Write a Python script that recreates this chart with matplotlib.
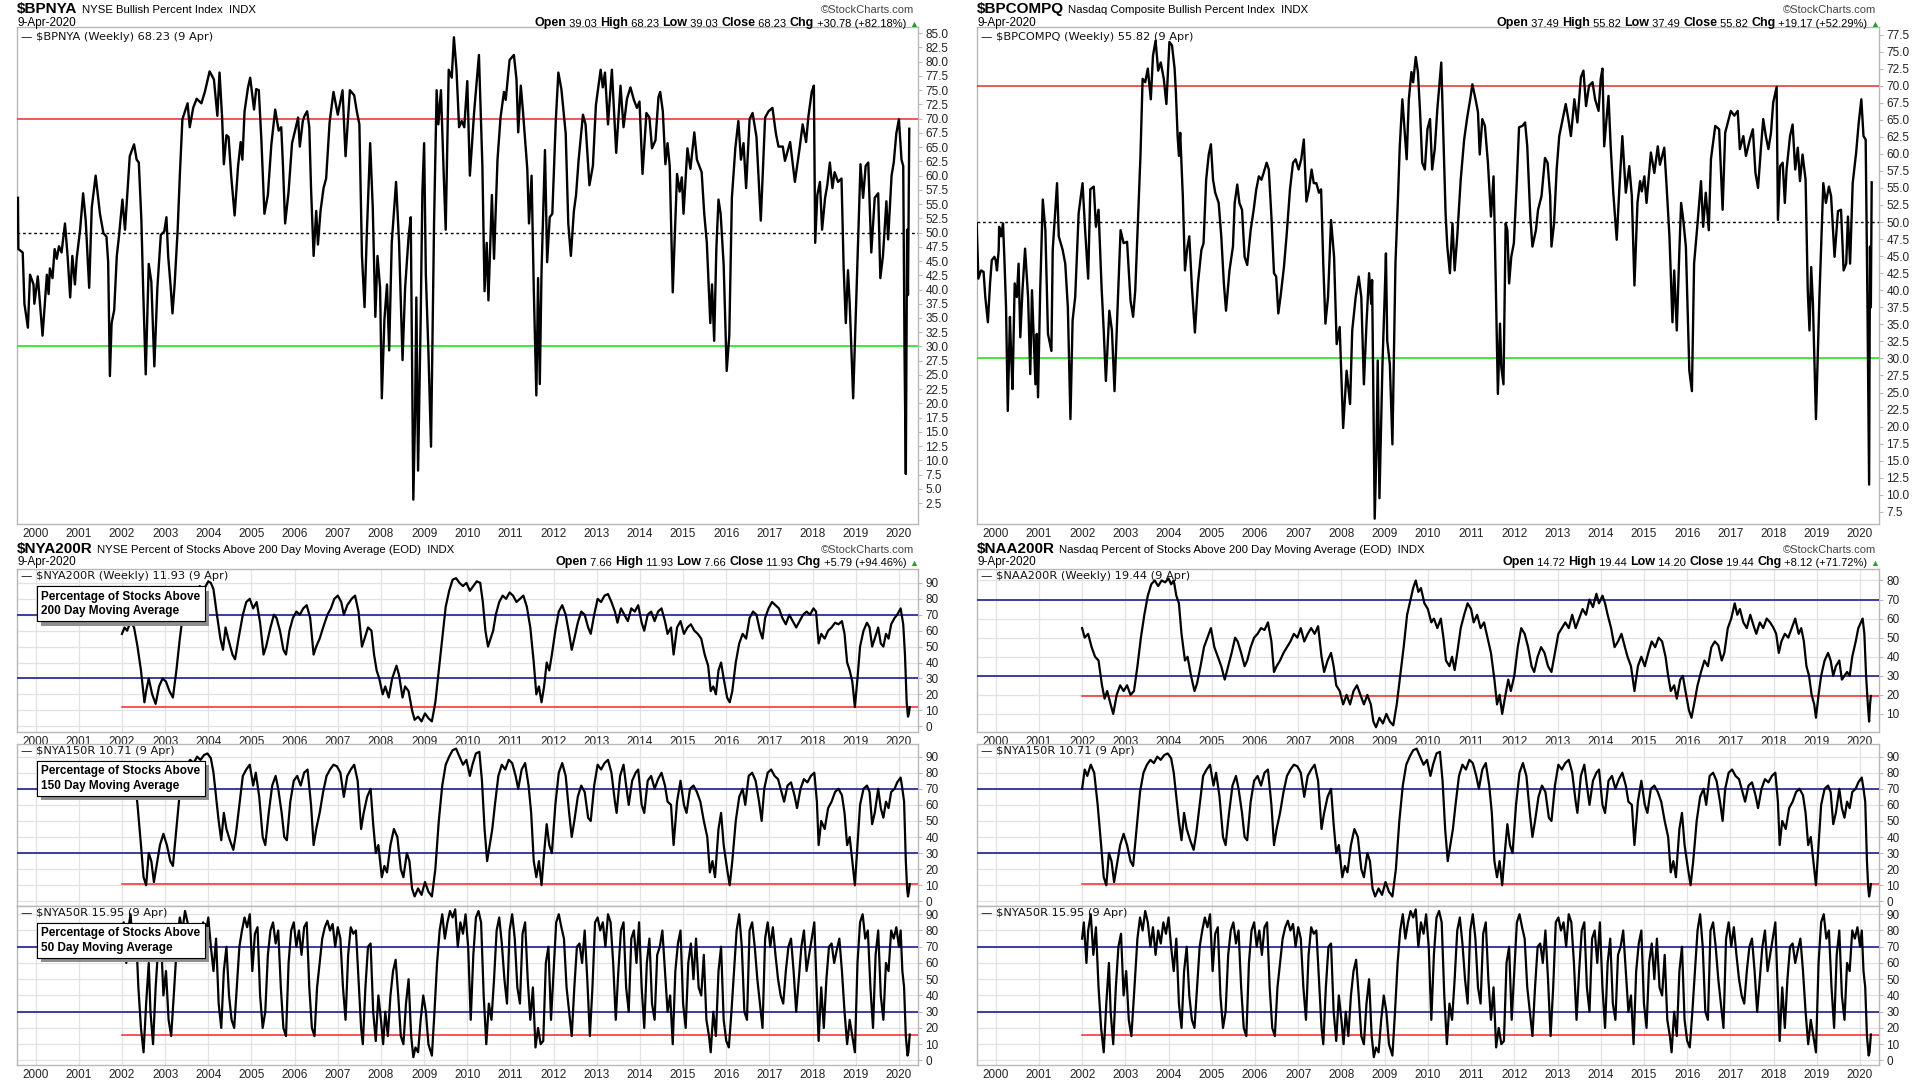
## Bullish percent + percent above moving average, StockCharts style weekly panels

import numpy as np
import matplotlib
matplotlib.use("Agg")
import matplotlib.pyplot as plt
import matplotlib.patheffects as pe

HEAD = ['Liberation Sans', 'DejaVu Sans']
plt.rcParams['font.family'] = ['Liberation Sans', 'DejaVu Sans']

years = list(range(2000, 2021))

## (decimal year, value)
bpnya = [
    (1999.59, 56.1), (1999.60, 47.1), (1999.70, 46.5), (1999.74, 37.5), (1999.82, 33.3), (1999.87, 42.6),
    (1999.95, 40.9), (1999.97, 37.5), (2000.05, 42.3), (2000.10, 37.5), (2000.16, 31.9), (2000.26, 42.6),
    (2000.30, 39.2), (2000.33, 43.7), (2000.39, 42.0), (2000.44, 47.1), (2000.49, 45.4), (2000.54, 47.6),
    (2000.60, 46.5), (2000.68, 51.6), (2000.74, 45.9), (2000.80, 38.6), (2000.85, 45.9), (2000.91, 40.9),
    (2000.95, 45.4), (2001.03, 50.5), (2001.10, 56.9), (2001.16, 52.1), (2001.24, 40.3), (2001.30, 54.4),
    (2001.39, 60.0), (2001.49, 53.3), (2001.57, 49.9), (2001.64, 49.3), (2001.68, 44.8), (2001.72, 24.8),
    (2001.76, 34.1), (2001.82, 36.4), (2001.88, 45.9), (2001.93, 49.3), (2002.01, 55.8), (2002.07, 50.5),
    (2002.18, 63.4), (2002.28, 65.5), (2002.34, 62.8), (2002.39, 62.3), (2002.45, 52.1), (2002.49, 40.3),
    (2002.55, 25.1), (2002.62, 44.5), (2002.68, 41.4), (2002.75, 26.5), (2002.82, 40.3), (2002.90, 49.6),
    (2002.98, 50.2), (2003.03, 52.7), (2003.07, 45.9), (2003.13, 40.3), (2003.17, 35.8), (2003.22, 40.9),
    (2003.29, 50.5), (2003.34, 60.0), (2003.40, 69.9), (2003.46, 71.3), (2003.52, 72.7), (2003.57, 68.5),
    (2003.65, 71.9), (2003.73, 73.5), (2003.84, 72.7), (2003.92, 74.7), (2004.03, 78.3), (2004.13, 76.9),
    (2004.21, 70.5), (2004.26, 78.1), (2004.32, 70.2), (2004.36, 62.0), (2004.42, 67.1), (2004.47, 66.8),
    (2004.53, 60.0), (2004.61, 53.0), (2004.69, 61.7), (2004.75, 65.9), (2004.79, 62.8), (2004.84, 71.3),
    (2004.92, 75.5), (2004.97, 77.2), (2005.06, 71.6), (2005.11, 75.2), (2005.17, 75.0), (2005.23, 66.2),
    (2005.30, 53.3), (2005.38, 56.6), (2005.46, 65.4), (2005.55, 71.6), (2005.63, 67.9), (2005.69, 68.5),
    (2005.73, 61.7), (2005.78, 51.6), (2005.86, 57.2), (2005.94, 65.7), (2006.01, 67.9), (2006.08, 70.2),
    (2006.12, 65.1), (2006.19, 69.6), (2006.23, 70.5), (2006.29, 71.3), (2006.34, 68.5), (2006.38, 57.8),
    (2006.44, 45.9), (2006.50, 53.8), (2006.54, 47.9), (2006.60, 53.8), (2006.67, 57.8), (2006.73, 59.5),
    (2006.81, 69.3), (2006.90, 74.7), (2007.00, 70.7), (2007.11, 75.0), (2007.18, 63.4), (2007.28, 75.0),
    (2007.38, 74.1), (2007.44, 71.3), (2007.50, 69.0), (2007.56, 45.9), (2007.62, 36.9), (2007.67, 49.3),
    (2007.75, 65.7), (2007.81, 54.4), (2007.87, 35.2), (2007.92, 45.9), (2007.98, 40.3), (2008.02, 20.9),
    (2008.08, 34.7), (2008.14, 40.9), (2008.19, 29.3), (2008.25, 48.2), (2008.35, 58.9), (2008.42, 48.2),
    (2008.50, 27.6), (2008.56, 40.3), (2008.64, 49.3), (2008.69, 52.7), (2008.75, 3.1), (2008.79, 17.8),
    (2008.82, 38.6), (2008.86, 8.2), (2008.92, 34.7), (2008.96, 57.2), (2009.00, 65.7), (2009.04, 42.6),
    (2009.10, 29.0), (2009.16, 12.4), (2009.23, 51.6), (2009.29, 75.0), (2009.33, 69.0), (2009.39, 75.0),
    (2009.46, 58.9), (2009.50, 50.5), (2009.57, 78.6), (2009.64, 77.2), (2009.69, 84.3), (2009.75, 78.6),
    (2009.81, 68.5), (2009.87, 69.6), (2009.93, 68.5), (2010.00, 76.6), (2010.06, 60.0), (2010.16, 71.3),
    (2010.27, 81.2), (2010.35, 61.7), (2010.40, 39.7), (2010.45, 48.2), (2010.49, 38.1), (2010.57, 56.6),
    (2010.62, 45.4), (2010.70, 62.8), (2010.77, 70.2), (2010.85, 74.7), (2010.89, 73.3), (2010.98, 80.3),
    (2011.08, 81.2), (2011.14, 76.9), (2011.18, 67.6), (2011.24, 75.8), (2011.29, 71.3), (2011.39, 61.2),
    (2011.43, 51.6), (2011.49, 60.0), (2011.54, 40.3), (2011.60, 21.4), (2011.64, 42.0), (2011.68, 23.4),
    (2011.72, 43.1), (2011.80, 64.5), (2011.85, 44.8), (2011.91, 52.7), (2011.97, 53.3), (2012.05, 69.6),
    (2012.11, 78.1), (2012.18, 75.2), (2012.28, 67.4), (2012.34, 51.6), (2012.40, 45.9), (2012.47, 53.8),
    (2012.52, 56.6), (2012.58, 62.8), (2012.68, 70.7), (2012.74, 69.0), (2012.83, 58.3), (2012.91, 61.7),
    (2012.98, 72.4), (2013.09, 78.6), (2013.14, 75.5), (2013.19, 78.1), (2013.26, 69.0), (2013.35, 78.6),
    (2013.45, 64.0), (2013.55, 75.8), (2013.62, 68.5), (2013.70, 73.5), (2013.78, 75.5), (2013.86, 73.3),
    (2013.93, 71.9), (2013.99, 73.0), (2014.06, 60.3), (2014.15, 71.0), (2014.22, 70.2), (2014.28, 64.8),
    (2014.36, 66.2), (2014.43, 73.8), (2014.47, 74.7), (2014.53, 71.3), (2014.59, 62.0), (2014.64, 65.7),
    (2014.69, 61.7), (2014.76, 39.5), (2014.86, 60.3), (2014.92, 57.2), (2014.97, 59.7), (2015.01, 53.3),
    (2015.10, 64.8), (2015.17, 61.2), (2015.26, 67.6), (2015.32, 62.8), (2015.43, 60.6), (2015.49, 53.3),
    (2015.55, 48.2), (2015.63, 34.1), (2015.67, 40.9), (2015.72, 31.0), (2015.77, 47.1), (2015.82, 55.8),
    (2015.87, 53.3), (2015.94, 44.3), (2016.01, 25.7), (2016.07, 31.9), (2016.13, 56.1), (2016.21, 64.8),
    (2016.28, 69.6), (2016.34, 62.8), (2016.40, 65.7), (2016.46, 57.8), (2016.54, 69.9), (2016.61, 71.0),
    (2016.70, 66.8), (2016.80, 52.1), (2016.90, 70.2), (2016.98, 71.3), (2017.07, 71.9), (2017.15, 67.4),
    (2017.21, 65.1), (2017.31, 65.1), (2017.36, 62.6), (2017.48, 65.9), (2017.59, 58.9), (2017.69, 64.3),
    (2017.77, 69.0), (2017.85, 65.9), (2017.90, 70.2), (2017.98, 74.7), (2018.03, 75.8), (2018.06, 48.2),
    (2018.11, 56.6), (2018.17, 58.9), (2018.22, 50.5), (2018.29, 56.1), (2018.34, 58.3), (2018.40, 62.3),
    (2018.46, 57.8), (2018.51, 60.6), (2018.59, 58.9), (2018.67, 59.5), (2018.72, 43.7), (2018.77, 34.1),
    (2018.82, 43.4), (2018.86, 37.5), (2018.94, 20.9), (2019.02, 40.3), (2019.11, 62.0), (2019.17, 56.1),
    (2019.23, 61.7), (2019.29, 62.3), (2019.36, 46.5), (2019.44, 56.1), (2019.52, 56.9), (2019.57, 42.0),
    (2019.63, 45.9), (2019.71, 55.5), (2019.75, 48.8), (2019.83, 60.0), (2019.88, 62.3), (2019.94, 67.4),
    (2020.00, 69.9), (2020.06, 62.8), (2020.10, 61.7), (2020.13, 29.0), (2020.16, 7.6), (2020.19, 50.5),
    (2020.21, 39.03), (2020.24, 68.23),
]

bpcompq = [
    (1999.56, 49.8), (1999.60, 41.7), (1999.66, 42.9), (1999.72, 42.7), (1999.76, 39.0), (1999.82, 35.3),
    (1999.87, 41.0), (1999.91, 44.4), (1999.97, 44.9), (2000.00, 44.4), (2000.03, 42.9), (2000.07, 45.9),
    (2000.08, 49.3), (2000.13, 47.9), (2000.17, 49.8), (2000.20, 44.9), (2000.24, 37.5), (2000.28, 22.3),
    (2000.33, 36.1), (2000.36, 30.2), (2000.39, 25.5), (2000.44, 41.0), (2000.49, 39.0), (2000.53, 43.9),
    (2000.57, 33.1), (2000.62, 40.0), (2000.68, 46.1), (2000.75, 39.0), (2000.80, 27.7), (2000.84, 40.0),
    (2000.88, 33.1), (2000.92, 26.2), (2000.95, 33.6), (2000.98, 24.3), (2001.03, 40.0), (2001.09, 53.3),
    (2001.15, 48.8), (2001.21, 33.6), (2001.29, 31.1), (2001.32, 45.9), (2001.38, 51.8), (2001.42, 55.7),
    (2001.46, 47.9), (2001.55, 45.9), (2001.61, 43.9), (2001.67, 37.5), (2001.73, 21.1), (2001.78, 35.6),
    (2001.84, 39.0), (2001.92, 51.3), (2002.01, 55.7), (2002.07, 48.8), (2002.14, 41.7), (2002.19, 54.8),
    (2002.27, 55.2), (2002.32, 49.3), (2002.38, 51.8), (2002.45, 40.5), (2002.50, 34.1), (2002.55, 26.7),
    (2002.63, 37.0), (2002.69, 34.1), (2002.75, 25.2), (2002.83, 39.0), (2002.89, 48.8), (2002.96, 46.9),
    (2003.04, 47.1), (2003.12, 38.5), (2003.18, 36.1), (2003.23, 40.0), (2003.29, 49.8), (2003.35, 59.7),
    (2003.40, 71.0), (2003.46, 70.5), (2003.52, 72.5), (2003.59, 68.0), (2003.64, 74.4), (2003.70, 76.6),
    (2003.76, 72.2), (2003.82, 73.4), (2003.89, 71.0), (2003.95, 67.3), (2004.02, 76.4), (2004.08, 75.9),
    (2004.14, 72.5), (2004.17, 69.0), (2004.21, 62.6), (2004.24, 59.7), (2004.27, 63.1), (2004.33, 53.8),
    (2004.38, 42.9), (2004.43, 46.1), (2004.48, 47.9), (2004.54, 40.5), (2004.61, 33.8), (2004.68, 41.0),
    (2004.76, 45.9), (2004.81, 46.9), (2004.87, 56.2), (2004.93, 59.9), (2004.98, 61.4), (2005.03, 56.2),
    (2005.08, 54.3), (2005.16, 52.8), (2005.22, 47.9), (2005.28, 41.0), (2005.33, 37.0), (2005.41, 42.9),
    (2005.49, 46.4), (2005.53, 52.8), (2005.59, 55.5), (2005.64, 52.8), (2005.70, 51.8), (2005.76, 44.9),
    (2005.82, 43.7), (2005.90, 48.8), (2005.97, 51.8), (2006.03, 54.8), (2006.09, 56.7), (2006.15, 56.2),
    (2006.20, 57.2), (2006.27, 58.7), (2006.32, 57.7), (2006.38, 50.8), (2006.44, 42.5), (2006.49, 42.0),
    (2006.54, 36.6), (2006.59, 39.0), (2006.67, 43.4), (2006.73, 47.9), (2006.81, 54.8), (2006.88, 58.7),
    (2006.94, 59.2), (2007.01, 57.7), (2007.07, 59.2), (2007.13, 62.1), (2007.19, 53.0), (2007.25, 54.8),
    (2007.31, 57.7), (2007.36, 55.7), (2007.42, 55.7), (2007.48, 54.3), (2007.53, 54.8), (2007.58, 43.9),
    (2007.63, 35.1), (2007.69, 39.0), (2007.76, 50.3), (2007.83, 44.9), (2007.89, 32.1), (2007.96, 34.6),
    (2008.04, 19.8), (2008.12, 28.2), (2008.20, 23.3), (2008.25, 34.1), (2008.33, 39.0), (2008.40, 42.0),
    (2008.46, 39.0), (2008.52, 26.2), (2008.58, 35.1), (2008.64, 42.5), (2008.69, 38.0), (2008.71, 41.5),
    (2008.77, 6.5), (2008.81, 16.4), (2008.84, 29.7), (2008.88, 9.5), (2008.95, 29.2), (2009.00, 39.0),
    (2009.03, 45.4), (2009.06, 32.6), (2009.12, 29.2), (2009.18, 17.4), (2009.25, 43.9), (2009.31, 53.8),
    (2009.35, 61.1), (2009.41, 68.0), (2009.46, 63.6), (2009.51, 59.2), (2009.56, 68.0), (2009.62, 72.0),
    (2009.66, 70.5), (2009.72, 74.2), (2009.77, 72.0), (2009.82, 66.1), (2009.87, 58.7), (2009.93, 57.7),
    (2009.99, 63.6), (2010.05, 65.1), (2010.10, 57.7), (2010.16, 60.7), (2010.22, 66.6), (2010.31, 73.4),
    (2010.36, 62.1), (2010.41, 51.3), (2010.45, 46.4), (2010.51, 42.5), (2010.57, 49.8), (2010.62, 42.9),
    (2010.68, 47.9), (2010.76, 56.2), (2010.84, 62.1), (2010.91, 65.3), (2010.98, 68.0), (2011.03, 70.2),
    (2011.11, 67.8), (2011.16, 66.1), (2011.20, 59.9), (2011.26, 65.1), (2011.32, 64.1), (2011.39, 58.7),
    (2011.46, 50.8), (2011.52, 56.7), (2011.57, 41.5), (2011.62, 24.8), (2011.67, 35.1), (2011.70, 28.7),
    (2011.75, 26.2), (2011.80, 49.8), (2011.84, 48.8), (2011.88, 41.0), (2011.93, 44.9), (2011.99, 46.9),
    (2012.06, 56.2), (2012.11, 63.9), (2012.19, 64.1), (2012.25, 64.6), (2012.30, 61.1), (2012.37, 50.8),
    (2012.42, 46.4), (2012.50, 48.8), (2012.55, 51.8), (2012.63, 53.8), (2012.71, 59.4), (2012.77, 58.7),
    (2012.83, 53.8), (2012.86, 46.4), (2012.92, 49.8), (2012.98, 57.7), (2013.04, 62.6), (2013.12, 65.1),
    (2013.19, 67.3), (2013.25, 65.1), (2013.31, 62.6), (2013.39, 68.0), (2013.46, 64.6), (2013.54, 71.2),
    (2013.60, 72.2), (2013.66, 67.0), (2013.73, 70.0), (2013.81, 70.5), (2013.87, 68.0), (2013.95, 66.3),
    (2014.00, 71.0), (2014.04, 72.5), (2014.08, 61.1), (2014.12, 64.1), (2014.18, 68.5), (2014.23, 61.1),
    (2014.29, 54.3), (2014.37, 47.4), (2014.43, 54.8), (2014.50, 62.6), (2014.58, 54.3), (2014.66, 58.2),
    (2014.72, 53.8), (2014.78, 40.7), (2014.85, 52.8), (2014.91, 56.0), (2014.95, 54.5), (2015.01, 56.7),
    (2015.06, 52.8), (2015.16, 60.2), (2015.24, 57.2), (2015.32, 61.1), (2015.37, 58.4), (2015.47, 60.9),
    (2015.52, 55.7), (2015.59, 47.9), (2015.66, 35.3), (2015.70, 42.9), (2015.76, 34.1), (2015.82, 45.9),
    (2015.86, 52.8), (2015.91, 50.3), (2015.97, 46.4), (2016.05, 28.2), (2016.11, 25.2), (2016.16, 43.9),
    (2016.24, 49.8), (2016.32, 56.0), (2016.37, 49.3), (2016.43, 54.3), (2016.50, 48.8), (2016.55, 59.2),
    (2016.65, 64.1), (2016.74, 63.6), (2016.82, 51.8), (2016.88, 63.1), (2016.96, 65.1), (2017.01, 66.3),
    (2017.09, 65.6), (2017.17, 66.3), (2017.22, 60.7), (2017.30, 62.6), (2017.36, 59.7), (2017.45, 62.1),
    (2017.52, 63.6), (2017.58, 57.2), (2017.64, 55.0), (2017.71, 61.1), (2017.76, 65.1), (2017.82, 62.6),
    (2017.88, 60.7), (2017.94, 63.1), (2017.99, 67.5), (2018.07, 69.8), (2018.10, 50.3), (2018.15, 58.2),
    (2018.21, 58.7), (2018.26, 52.8), (2018.30, 57.7), (2018.38, 62.6), (2018.44, 64.3), (2018.50, 57.7),
    (2018.56, 60.9), (2018.61, 56.0), (2018.67, 59.9), (2018.74, 56.2), (2018.79, 40.0), (2018.83, 34.1),
    (2018.87, 43.4), (2018.91, 38.0), (2018.98, 21.1), (2019.06, 39.0), (2019.15, 55.7), (2019.21, 52.8),
    (2019.28, 55.2), (2019.33, 53.8), (2019.41, 44.9), (2019.49, 51.6), (2019.56, 51.8), (2019.62, 42.9),
    (2019.68, 43.9), (2019.72, 50.8), (2019.77, 43.9), (2019.83, 55.7), (2019.91, 60.2), (2019.97, 64.6),
    (2020.03, 68.0), (2020.08, 62.6), (2020.13, 62.1), (2020.17, 39.0), (2020.21, 11.5), (2020.23, 46.4),
    (2020.25, 37.49), (2020.27, 55.82),
]

nya200r = [
    (2002.00, 58), (2002.06, 62), (2002.12, 60), (2002.20, 66), (2002.28, 62), (2002.36, 50), (2002.44, 35),
    (2002.52, 15), (2002.56, 22), (2002.62, 30), (2002.70, 20), (2002.78, 14), (2002.86, 25), (2002.94, 30),
    (2003.02, 28), (2003.10, 22), (2003.18, 18), (2003.26, 35), (2003.34, 55), (2003.42, 72), (2003.52, 80),
    (2003.60, 85), (2003.70, 84), (2003.80, 88), (2003.90, 86), (2004.00, 91), (2004.06, 90), (2004.12, 86),
    (2004.20, 70), (2004.28, 55), (2004.34, 48), (2004.40, 62), (2004.46, 55), (2004.56, 45), (2004.62, 42),
    (2004.70, 55), (2004.80, 70), (2004.88, 78), (2004.96, 80), (2005.04, 74), (2005.12, 78), (2005.20, 65),
    (2005.28, 45), (2005.34, 50), (2005.44, 62), (2005.52, 70), (2005.58, 68), (2005.66, 60), (2005.74, 48),
    (2005.80, 45), (2005.88, 60), (2005.96, 68), (2006.04, 72), (2006.12, 70), (2006.20, 74), (2006.28, 76),
    (2006.36, 68), (2006.44, 45), (2006.50, 50), (2006.58, 55), (2006.66, 62), (2006.76, 70), (2006.84, 74),
    (2006.92, 80), (2007.00, 82), (2007.08, 78), (2007.14, 70), (2007.22, 76), (2007.32, 80), (2007.40, 82),
    (2007.48, 72), (2007.56, 50), (2007.62, 55), (2007.70, 62), (2007.78, 60), (2007.84, 45), (2007.90, 35),
    (2007.96, 30), (2008.04, 20), (2008.10, 25), (2008.18, 18), (2008.26, 30), (2008.36, 38), (2008.42, 32),
    (2008.50, 18), (2008.56, 25), (2008.64, 22), (2008.72, 10), (2008.78, 4), (2008.86, 6), (2008.94, 3),
    (2009.02, 8), (2009.10, 5), (2009.18, 3), (2009.26, 15), (2009.34, 35), (2009.42, 55), (2009.50, 75),
    (2009.58, 85), (2009.66, 92), (2009.74, 93), (2009.82, 90), (2009.90, 88), (2009.98, 90), (2010.06, 85),
    (2010.14, 88), (2010.22, 91), (2010.30, 90), (2010.36, 78), (2010.42, 60), (2010.48, 50), (2010.54, 55),
    (2010.60, 60), (2010.66, 70), (2010.74, 78), (2010.82, 82), (2010.90, 80), (2010.98, 84), (2011.06, 82),
    (2011.14, 78), (2011.22, 80), (2011.30, 82), (2011.38, 75), (2011.46, 62), (2011.54, 40), (2011.60, 20),
    (2011.66, 25), (2011.72, 15), (2011.78, 25), (2011.84, 40), (2011.90, 35), (2011.96, 45), (2012.04, 60),
    (2012.12, 72), (2012.20, 76), (2012.28, 70), (2012.36, 58), (2012.42, 48), (2012.48, 55), (2012.56, 65),
    (2012.64, 72), (2012.72, 70), (2012.80, 62), (2012.86, 58), (2012.94, 70), (2013.02, 80), (2013.10, 78),
    (2013.18, 82), (2013.26, 83), (2013.34, 78), (2013.42, 72), (2013.48, 65), (2013.56, 74), (2013.64, 70),
    (2013.72, 66), (2013.80, 74), (2013.88, 72), (2013.96, 76), (2014.04, 65), (2014.10, 60), (2014.18, 70),
    (2014.26, 72), (2014.34, 66), (2014.42, 72), (2014.50, 74), (2014.58, 66), (2014.64, 58), (2014.72, 62),
    (2014.78, 45), (2014.86, 62), (2014.94, 66), (2015.02, 58), (2015.10, 62), (2015.18, 64), (2015.26, 60),
    (2015.34, 58), (2015.42, 55), (2015.50, 45), (2015.58, 38), (2015.64, 22), (2015.70, 25), (2015.76, 20),
    (2015.82, 35), (2015.88, 40), (2015.94, 30), (2016.02, 18), (2016.08, 15), (2016.14, 22), (2016.22, 40),
    (2016.30, 52), (2016.38, 58), (2016.46, 55), (2016.54, 68), (2016.62, 72), (2016.70, 70), (2016.78, 60),
    (2016.84, 55), (2016.90, 68), (2016.98, 74), (2017.06, 78), (2017.14, 76), (2017.22, 74), (2017.30, 68),
    (2017.38, 64), (2017.46, 70), (2017.54, 66), (2017.62, 62), (2017.70, 66), (2017.78, 70), (2017.86, 72),
    (2017.94, 70), (2018.02, 74), (2018.08, 72), (2018.14, 52), (2018.20, 58), (2018.28, 55), (2018.36, 60),
    (2018.44, 62), (2018.52, 65), (2018.60, 64), (2018.68, 66), (2018.74, 58), (2018.80, 40), (2018.86, 35),
    (2018.92, 28), (2018.98, 12), (2019.04, 30), (2019.10, 50), (2019.18, 60), (2019.26, 65), (2019.32, 62),
    (2019.38, 50), (2019.44, 55), (2019.52, 62), (2019.58, 52), (2019.64, 50), (2019.70, 58), (2019.76, 55),
    (2019.82, 64), (2019.90, 68), (2019.96, 70), (2020.04, 74), (2020.10, 64), (2020.14, 45), (2020.18, 15),
    (2020.21, 6), (2020.23, 7.66), (2020.25, 11.93),
]

naa200r = [
    (2002.00, 55), (2002.06, 50), (2002.14, 52), (2002.22, 45), (2002.30, 40), (2002.38, 38), (2002.46, 25),
    (2002.52, 18), (2002.58, 22), (2002.66, 15), (2002.72, 10), (2002.80, 20), (2002.88, 25), (2002.96, 22),
    (2003.04, 25), (2003.12, 20), (2003.20, 22), (2003.28, 35), (2003.36, 50), (2003.44, 62), (2003.52, 72),
    (2003.60, 78), (2003.68, 80), (2003.76, 77), (2003.84, 80), (2003.92, 79), (2004.00, 81), (2004.06, 78),
    (2004.12, 80), (2004.18, 72), (2004.24, 68), (2004.30, 52), (2004.38, 38), (2004.44, 40), (2004.52, 30),
    (2004.60, 22), (2004.66, 26), (2004.74, 35), (2004.82, 45), (2004.90, 50), (2004.98, 55), (2005.06, 45),
    (2005.14, 40), (2005.22, 35), (2005.30, 28), (2005.38, 35), (2005.46, 42), (2005.54, 50), (2005.60, 48),
    (2005.68, 42), (2005.76, 35), (2005.82, 38), (2005.90, 45), (2005.98, 50), (2006.06, 52), (2006.14, 55),
    (2006.22, 54), (2006.30, 58), (2006.38, 48), (2006.44, 32), (2006.50, 35), (2006.58, 38), (2006.66, 42),
    (2006.74, 45), (2006.82, 48), (2006.90, 52), (2006.98, 50), (2007.06, 55), (2007.14, 48), (2007.22, 52),
    (2007.30, 55), (2007.38, 52), (2007.46, 56), (2007.54, 40), (2007.60, 32), (2007.68, 38), (2007.76, 42),
    (2007.82, 35), (2007.88, 25), (2007.96, 22), (2008.04, 15), (2008.12, 20), (2008.20, 15), (2008.28, 22),
    (2008.36, 25), (2008.44, 20), (2008.52, 15), (2008.60, 20), (2008.68, 15), (2008.74, 6), (2008.80, 3),
    (2008.88, 8), (2008.96, 5), (2009.04, 10), (2009.12, 6), (2009.20, 4), (2009.28, 15), (2009.36, 30),
    (2009.44, 45), (2009.52, 62), (2009.60, 70), (2009.66, 76), (2009.72, 80), (2009.78, 74), (2009.84, 76),
    (2009.92, 68), (2010.00, 65), (2010.08, 58), (2010.14, 60), (2010.22, 55), (2010.30, 60), (2010.36, 50),
    (2010.42, 38), (2010.50, 35), (2010.56, 40), (2010.62, 33), (2010.68, 42), (2010.76, 55), (2010.84, 62),
    (2010.92, 68), (2011.00, 65), (2011.06, 58), (2011.14, 62), (2011.22, 55), (2011.30, 58), (2011.38, 50),
    (2011.46, 42), (2011.54, 28), (2011.60, 15), (2011.66, 20), (2011.72, 10), (2011.78, 18), (2011.86, 28),
    (2011.92, 22), (2012.00, 30), (2012.08, 45), (2012.16, 55), (2012.24, 52), (2012.32, 45), (2012.40, 35),
    (2012.46, 32), (2012.54, 40), (2012.62, 45), (2012.70, 42), (2012.78, 35), (2012.86, 32), (2012.94, 42),
    (2013.02, 52), (2013.10, 55), (2013.18, 58), (2013.26, 55), (2013.34, 62), (2013.42, 55), (2013.50, 60),
    (2013.58, 65), (2013.66, 62), (2013.74, 70), (2013.82, 66), (2013.90, 73), (2013.96, 68), (2014.04, 72),
    (2014.10, 68), (2014.16, 62), (2014.24, 55), (2014.32, 45), (2014.40, 48), (2014.48, 52), (2014.56, 45),
    (2014.62, 40), (2014.70, 35), (2014.78, 22), (2014.86, 35), (2014.94, 40), (2015.02, 35), (2015.10, 42),
    (2015.18, 48), (2015.26, 45), (2015.34, 50), (2015.42, 48), (2015.50, 40), (2015.56, 30), (2015.62, 22),
    (2015.70, 25), (2015.76, 18), (2015.84, 28), (2015.90, 30), (2015.96, 22), (2016.04, 12), (2016.10, 8),
    (2016.16, 15), (2016.24, 25), (2016.32, 32), (2016.40, 38), (2016.48, 35), (2016.56, 45), (2016.64, 48),
    (2016.72, 46), (2016.80, 38), (2016.86, 42), (2016.94, 55), (2017.02, 60), (2017.10, 68), (2017.16, 62),
    (2017.22, 65), (2017.30, 58), (2017.38, 55), (2017.46, 62), (2017.54, 56), (2017.60, 52), (2017.68, 58),
    (2017.76, 55), (2017.84, 60), (2017.92, 58), (2018.00, 55), (2018.06, 52), (2018.12, 42), (2018.18, 48),
    (2018.26, 52), (2018.34, 50), (2018.42, 55), (2018.50, 60), (2018.58, 52), (2018.64, 55), (2018.70, 48),
    (2018.76, 35), (2018.82, 30), (2018.88, 20), (2018.94, 15), (2018.98, 8), (2019.04, 20), (2019.10, 30),
    (2019.18, 38), (2019.26, 42), (2019.32, 38), (2019.38, 30), (2019.44, 35), (2019.52, 38), (2019.58, 28),
    (2019.64, 30), (2019.70, 32), (2019.76, 30), (2019.82, 40), (2019.90, 48), (2019.96, 55), (2020.02, 58),
    (2020.06, 60), (2020.10, 52), (2020.14, 30), (2020.18, 15), (2020.21, 6), (2020.23, 14.72), (2020.25, 19.44),
]

nya150r = [
    (2002.00, 70), (2002.06, 82), (2002.12, 78), (2002.20, 85), (2002.28, 80), (2002.36, 60), (2002.44, 35),
    (2002.50, 15), (2002.56, 10), (2002.62, 30), (2002.68, 25), (2002.74, 12), (2002.80, 22), (2002.88, 35),
    (2002.96, 42), (2003.04, 35), (2003.12, 25), (2003.18, 22), (2003.26, 45), (2003.34, 68), (2003.42, 80),
    (2003.50, 85), (2003.58, 88), (2003.66, 86), (2003.74, 90), (2003.82, 88), (2003.90, 91), (2003.98, 92),
    (2004.06, 89), (2004.12, 80), (2004.18, 65), (2004.24, 50), (2004.30, 38), (2004.36, 55), (2004.42, 45),
    (2004.50, 38), (2004.58, 32), (2004.64, 42), (2004.72, 60), (2004.80, 78), (2004.88, 82), (2004.96, 85),
    (2005.04, 72), (2005.10, 80), (2005.18, 65), (2005.26, 40), (2005.32, 35), (2005.40, 55), (2005.48, 72),
    (2005.56, 78), (2005.62, 70), (2005.70, 55), (2005.76, 40), (2005.82, 38), (2005.90, 62), (2005.98, 75),
    (2006.06, 78), (2006.14, 72), (2006.22, 80), (2006.30, 82), (2006.38, 60), (2006.44, 35), (2006.50, 45),
    (2006.58, 55), (2006.66, 68), (2006.74, 78), (2006.82, 82), (2006.90, 85), (2006.98, 84), (2007.06, 80),
    (2007.14, 65), (2007.22, 78), (2007.30, 82), (2007.38, 85), (2007.46, 75), (2007.54, 45), (2007.60, 55),
    (2007.68, 65), (2007.76, 70), (2007.82, 48), (2007.88, 30), (2007.94, 35), (2008.02, 15), (2008.08, 22),
    (2008.14, 18), (2008.22, 35), (2008.30, 45), (2008.38, 40), (2008.46, 20), (2008.52, 15), (2008.60, 30),
    (2008.66, 25), (2008.72, 8), (2008.78, 3), (2008.86, 8), (2008.94, 4), (2009.02, 12), (2009.10, 6),
    (2009.18, 3), (2009.26, 20), (2009.34, 50), (2009.42, 72), (2009.50, 85), (2009.58, 90), (2009.66, 94),
    (2009.74, 95), (2009.82, 90), (2009.90, 85), (2009.98, 88), (2010.06, 78), (2010.12, 85), (2010.20, 92),
    (2010.28, 93), (2010.34, 75), (2010.40, 45), (2010.46, 25), (2010.52, 35), (2010.58, 45), (2010.64, 60),
    (2010.72, 78), (2010.80, 85), (2010.88, 82), (2010.96, 88), (2011.04, 86), (2011.12, 78), (2011.18, 70),
    (2011.26, 82), (2011.34, 86), (2011.42, 72), (2011.48, 55), (2011.54, 25), (2011.60, 15), (2011.66, 25),
    (2011.72, 10), (2011.78, 30), (2011.84, 48), (2011.90, 35), (2011.96, 30), (2012.04, 60), (2012.12, 80),
    (2012.20, 86), (2012.28, 78), (2012.36, 55), (2012.42, 40), (2012.48, 50), (2012.56, 65), (2012.64, 72),
    (2012.72, 68), (2012.80, 52), (2012.86, 50), (2012.94, 72), (2013.02, 85), (2013.10, 82), (2013.18, 86),
    (2013.26, 88), (2013.34, 80), (2013.42, 62), (2013.46, 55), (2013.54, 78), (2013.62, 85), (2013.68, 72),
    (2013.74, 60), (2013.82, 75), (2013.90, 80), (2013.96, 82), (2014.04, 60), (2014.10, 55), (2014.18, 75),
    (2014.26, 78), (2014.34, 70), (2014.42, 76), (2014.50, 80), (2014.58, 72), (2014.64, 62), (2014.72, 60),
    (2014.78, 35), (2014.86, 62), (2014.94, 75), (2015.02, 60), (2015.08, 55), (2015.16, 70), (2015.24, 72),
    (2015.32, 68), (2015.40, 62), (2015.48, 50), (2015.56, 40), (2015.62, 18), (2015.68, 25), (2015.74, 15),
    (2015.82, 45), (2015.88, 55), (2015.94, 35), (2016.02, 20), (2016.08, 10), (2016.14, 25), (2016.22, 50),
    (2016.30, 65), (2016.38, 70), (2016.44, 60), (2016.52, 78), (2016.60, 80), (2016.68, 75), (2016.76, 62),
    (2016.82, 50), (2016.88, 70), (2016.96, 80), (2017.04, 82), (2017.12, 78), (2017.20, 76), (2017.28, 68),
    (2017.34, 62), (2017.42, 72), (2017.50, 74), (2017.58, 66), (2017.64, 58), (2017.72, 70), (2017.80, 76),
    (2017.88, 74), (2017.96, 78), (2018.04, 80), (2018.10, 62), (2018.14, 35), (2018.20, 50), (2018.28, 45),
    (2018.36, 58), (2018.44, 62), (2018.52, 68), (2018.60, 70), (2018.68, 66), (2018.74, 55), (2018.80, 35),
    (2018.86, 40), (2018.92, 25), (2018.98, 10), (2019.04, 35), (2019.10, 60), (2019.18, 70), (2019.26, 72),
    (2019.32, 68), (2019.38, 48), (2019.44, 55), (2019.52, 70), (2019.58, 58), (2019.64, 52), (2019.70, 62),
    (2019.76, 58), (2019.82, 68), (2019.90, 70), (2019.96, 74), (2020.04, 77), (2020.08, 70), (2020.12, 62),
    (2020.16, 25), (2020.19, 8), (2020.21, 3), (2020.23, 6), (2020.25, 10.71),
]

nya50r = [
    (2002.00, 75), (2002.04, 85), (2002.10, 60), (2002.14, 80), (2002.20, 90), (2002.26, 65), (2002.32, 82),
    (2002.38, 45), (2002.44, 20), (2002.50, 5), (2002.56, 35), (2002.62, 60), (2002.66, 30), (2002.72, 10),
    (2002.78, 45), (2002.84, 70), (2002.90, 78), (2002.96, 40), (2003.02, 55), (2003.08, 25), (2003.14, 15),
    (2003.20, 40), (2003.28, 75), (2003.34, 88), (2003.40, 80), (2003.46, 92), (2003.52, 85), (2003.58, 70),
    (2003.64, 82), (2003.70, 65), (2003.76, 80), (2003.82, 72), (2003.88, 85), (2003.94, 78), (2004.00, 88),
    (2004.06, 70), (2004.12, 55), (2004.18, 75), (2004.24, 35), (2004.30, 20), (2004.36, 55), (2004.42, 70),
    (2004.48, 40), (2004.54, 25), (2004.60, 20), (2004.66, 45), (2004.72, 70), (2004.78, 80), (2004.84, 88),
    (2004.90, 82), (2004.96, 90), (2005.02, 55), (2005.08, 78), (2005.14, 82), (2005.20, 40), (2005.26, 20),
    (2005.32, 30), (2005.38, 65), (2005.44, 80), (2005.50, 85), (2005.56, 72), (2005.62, 80), (2005.68, 45),
    (2005.74, 20), (2005.80, 15), (2005.86, 60), (2005.92, 80), (2005.98, 85), (2006.04, 70), (2006.10, 80),
    (2006.16, 65), (2006.22, 82), (2006.28, 85), (2006.34, 45), (2006.40, 20), (2006.46, 15), (2006.52, 45),
    (2006.58, 60), (2006.64, 75), (2006.70, 82), (2006.76, 86), (2006.82, 80), (2006.88, 84), (2006.94, 70),
    (2007.00, 82), (2007.06, 75), (2007.12, 45), (2007.18, 25), (2007.24, 65), (2007.30, 82), (2007.36, 78),
    (2007.42, 80), (2007.48, 50), (2007.54, 20), (2007.58, 10), (2007.64, 45), (2007.70, 70), (2007.76, 72),
    (2007.82, 30), (2007.88, 12), (2007.94, 40), (2008.00, 25), (2008.05, 10), (2008.10, 30), (2008.16, 15),
    (2008.22, 40), (2008.28, 55), (2008.34, 62), (2008.40, 40), (2008.46, 15), (2008.52, 10), (2008.58, 35),
    (2008.64, 50), (2008.70, 15), (2008.75, 2), (2008.80, 8), (2008.86, 5), (2008.92, 25), (2008.98, 40),
    (2009.04, 30), (2009.10, 10), (2009.18, 3), (2009.24, 30), (2009.30, 60), (2009.36, 80), (2009.42, 90),
    (2009.48, 75), (2009.54, 85), (2009.60, 92), (2009.66, 88), (2009.72, 93), (2009.78, 70), (2009.84, 85),
    (2009.90, 78), (2009.96, 90), (2010.02, 70), (2010.08, 25), (2010.14, 65), (2010.20, 88), (2010.26, 92),
    (2010.32, 85), (2010.38, 40), (2010.44, 10), (2010.50, 35), (2010.56, 25), (2010.62, 50), (2010.68, 80),
    (2010.74, 88), (2010.80, 72), (2010.86, 50), (2010.92, 35), (2010.98, 80), (2011.04, 90), (2011.10, 75),
    (2011.16, 45), (2011.22, 35), (2011.28, 78), (2011.34, 85), (2011.40, 50), (2011.46, 25), (2011.52, 45),
    (2011.58, 8), (2011.64, 20), (2011.70, 10), (2011.76, 12), (2011.82, 60), (2011.88, 70), (2011.94, 25),
    (2012.00, 55), (2012.06, 85), (2012.12, 90), (2012.18, 82), (2012.24, 75), (2012.30, 45), (2012.36, 30),
    (2012.42, 15), (2012.48, 45), (2012.54, 70), (2012.60, 72), (2012.66, 60), (2012.72, 80), (2012.78, 50),
    (2012.84, 15), (2012.90, 45), (2012.96, 85), (2013.02, 88), (2013.08, 80), (2013.14, 85), (2013.20, 70),
    (2013.26, 90), (2013.32, 85), (2013.38, 60), (2013.44, 25), (2013.50, 55), (2013.56, 80), (2013.62, 85),
    (2013.68, 45), (2013.74, 30), (2013.80, 75), (2013.86, 80), (2013.92, 60), (2013.98, 85), (2014.04, 45),
    (2014.10, 20), (2014.16, 60), (2014.22, 75), (2014.28, 35), (2014.34, 25), (2014.40, 65), (2014.46, 70),
    (2014.52, 80), (2014.58, 55), (2014.64, 30), (2014.70, 40), (2014.76, 10), (2014.82, 55), (2014.88, 72),
    (2014.94, 80), (2015.00, 35), (2015.06, 20), (2015.12, 60), (2015.18, 72), (2015.24, 50), (2015.30, 75),
    (2015.36, 45), (2015.42, 40), (2015.48, 65), (2015.54, 25), (2015.60, 15), (2015.64, 5), (2015.70, 30),
    (2015.76, 15), (2015.82, 55), (2015.88, 70), (2015.94, 25), (2016.00, 12), (2016.06, 8), (2016.12, 30),
    (2016.18, 55), (2016.24, 80), (2016.30, 90), (2016.36, 70), (2016.42, 30), (2016.48, 25), (2016.54, 80),
    (2016.60, 85), (2016.66, 70), (2016.72, 50), (2016.78, 35), (2016.84, 20), (2016.90, 75), (2016.96, 85),
    (2017.02, 70), (2017.08, 82), (2017.14, 65), (2017.20, 50), (2017.26, 40), (2017.32, 35), (2017.38, 55),
    (2017.44, 70), (2017.50, 75), (2017.56, 55), (2017.62, 30), (2017.68, 50), (2017.74, 70), (2017.80, 80),
    (2017.86, 55), (2017.92, 65), (2017.98, 75), (2018.04, 85), (2018.10, 40), (2018.14, 12), (2018.20, 45),
    (2018.26, 20), (2018.32, 50), (2018.38, 70), (2018.44, 72), (2018.50, 60), (2018.56, 68), (2018.62, 75),
    (2018.68, 55), (2018.74, 30), (2018.80, 10), (2018.86, 25), (2018.92, 15), (2018.98, 5), (2019.04, 60),
    (2019.10, 85), (2019.16, 90), (2019.22, 75), (2019.28, 80), (2019.34, 45), (2019.40, 20), (2019.46, 65),
    (2019.52, 80), (2019.58, 40), (2019.64, 25), (2019.70, 60), (2019.76, 55), (2019.82, 80), (2019.88, 75),
    (2019.94, 82), (2020.00, 70), (2020.04, 80), (2020.08, 55), (2020.12, 45), (2020.16, 15), (2020.20, 3),
    (2020.22, 5), (2020.25, 15.95),
]

## header text for each chart
tickers = ["$BPNYA", "$BPCOMPQ", "$NYA200R", "$NAA200R"]
descs = ["NYSE Bullish Percent Index", "Nasdaq Composite Bullish Percent Index",
         "NYSE Percent of Stocks Above 200 Day Moving Average (EOD)",
         "Nasdaq Percent of Stocks Above 200 Day Moving Average (EOD)"]
ohlc = [("39.03", "68.23", "39.03", "68.23", "+30.78 (+82.18%)"),
        ("37.49", "55.82", "37.49", "55.82", "+19.17 (+52.29%)"),
        ("7.66", "11.93", "7.66", "11.93", "+5.79 (+94.46%)"),
        ("14.72", "19.44", "14.20", "19.44", "+8.12 (+71.72%)")]

RED = '#ee2a2a'
GREEN = '#3ee83e'
BLUE = '#2f2f9c'
GRID = '#e2e2e2'
SPINE = '#b8b8b8'
XLIM = (1999.57, 2020.45)


def unpack(series):
    t, v = zip(*series)
    return np.array(t), np.array(v)


fig = plt.figure(figsize=(19.2, 10.8), dpi=100)

cols_x = [(0.0089, 0.4694), (0.5089, 0.4700)]
rows_y = [(0.5147, 0.4603), (0.3220, 0.1508), (0.1610, 0.1497), (0.0136, 0.1474)]


def make_ax(col, row, ylim, yticks, fmt, grid, xlabels=True):
    x0, w = cols_x[col]
    y0, h = rows_y[row]
    ax = fig.add_axes([x0, y0, w, h])
    ax.set_xlim(*XLIM)
    ax.set_ylim(*ylim)
    ax.yaxis.tick_right()
    ax.set_yticks(yticks)
    ax.set_yticklabels([fmt.format(v) for v in yticks])
    ax.set_xticks(years)
    if xlabels:
        ax.set_xticklabels([str(y) for y in years])
    else:
        ax.set_xticklabels([])
    ax.tick_params(axis='y', labelsize=8.5, length=3, color=SPINE, pad=2, labelcolor='#222222')
    ax.tick_params(axis='x', labelsize=8.5, length=0, pad=3, labelcolor='#222222')
    for s in ax.spines.values():
        s.set_color(SPINE)
        s.set_linewidth(1.0)
    if grid:
        ax.grid(True, color=GRID, lw=0.9)
        ax.set_axisbelow(True)
    return ax


def legend_text(ax, label):
    ax.text(0.004, 0.99, "\u2014 " + label, transform=ax.transAxes, fontsize=8.2,
            va='top', ha='left', color='#111111', family=['DejaVu Sans'])


def note_box(ax, text, ytop):
    t = ax.text(0.027, ytop, text, transform=ax.transAxes, fontsize=8.5, fontweight='bold',
                family=HEAD, va='top', ha='left', linespacing=1.3, zorder=6,
                bbox=dict(boxstyle='square,pad=0.35', fc='white', ec='black', lw=0.8))
    t.get_bbox_patch().set_path_effects([
        pe.withSimplePatchShadow(offset=(3, -3), shadow_rgbFace='#8f8f8f', alpha=1.0), pe.Normal()])


# top panels: bullish percent
tl = make_ax(0, 0, (-1.2, 86.1), np.arange(2.5, 85.1, 2.5), "{:.1f}", False)
t, v = unpack(bpnya)
tl.plot(t, v, color='black', lw=1.7, zorder=4)
tl.axhline(70, color=RED, lw=1.1, zorder=3)
tl.axhline(30, color=GREEN, lw=1.4, zorder=3)
tl.axhline(50, color='black', lw=1.0, ls=(0, (2, 2)), zorder=3)
legend_text(tl, "$BPNYA (Weekly) 68.23 (9 Apr)")

tr = make_ax(1, 0, (5.7, 78.6), np.arange(7.5, 77.6, 2.5), "{:.1f}", False)
t, v = unpack(bpcompq)
tr.plot(t, v, color='black', lw=1.7, zorder=4)
tr.axhline(70, color=RED, lw=1.1, zorder=3)
tr.axhline(30, color=GREEN, lw=1.4, zorder=3)
tr.axhline(50, color='black', lw=1.0, ls=(0, (2, 2)), zorder=3)
legend_text(tr, "$BPCOMPQ (Weekly) 55.82 (9 Apr)")

# lower panels: percent of stocks above moving averages
lower = [
    (0, 1, nya200r, (-3.8, 98.5), np.arange(0, 91, 10), "$NYA200R (Weekly) 11.93 (9 Apr)", 11.93, True,
     "Percentage of Stocks Above\n200 Day Moving Average"),
    (1, 1, naa200r, (0.4, 85.8), np.arange(10, 81, 10), "$NAA200R (Weekly) 19.44 (9 Apr)", 19.44, True, None),
    (0, 2, nya150r, (-3.0, 97.6), np.arange(0, 91, 10), "$NYA150R 10.71 (9 Apr)", 10.71, False,
     "Percentage of Stocks Above\n150 Day Moving Average"),
    (1, 2, nya150r, (-3.0, 97.6), np.arange(0, 91, 10), "$NYA150R 10.71 (9 Apr)", 10.71, False, None),
    (0, 3, nya50r, (-3.0, 95.0), np.arange(0, 91, 10), "$NYA50R 15.95 (9 Apr)", 15.95, True,
     "Percentage of Stocks Above\n50 Day Moving Average"),
    (1, 3, nya50r, (-3.0, 95.0), np.arange(0, 91, 10), "$NYA50R 15.95 (9 Apr)", 15.95, True, None),
]

for col, row, series, ylim, yt, lab, last, xl, note in lower:
    ax = make_ax(col, row, ylim, yt, "{:d}", True, xlabels=xl)
    t, v = unpack(series)
    ax.axhline(70, color=BLUE, lw=1.3, zorder=3)
    ax.axhline(30, color=BLUE, lw=1.3, zorder=3)
    ax.plot([t[0], XLIM[1]], [last, last], color=RED, lw=1.1, zorder=3)
    ax.plot(t, v, color='black', lw=1.6, zorder=4)
    legend_text(ax, lab)
    if note:
        note_box(ax, note, 0.87)

# headers go on a transparent overlay so no panel covers them
over = fig.add_axes([0, 0, 1, 1], zorder=20)
over.set_axis_off()
over.patch.set_visible(False)


def header(col, ybot, dbot, i):
    x0, w = cols_x[col]
    x1 = x0 + w
    t = over.text(x0, ybot, tickers[i], fontsize=11, fontweight='bold', family=HEAD,
                  va='bottom', ha='left', transform=fig.transFigure)
    over.annotate(descs[i] + "  INDX", xy=(1, 0), xycoords=t, xytext=(3, 1), textcoords='offset points',
                  fontsize=8.2, family=HEAD, va='bottom', ha='left', annotation_clip=False)
    over.text(x0, dbot, "9-Apr-2020", fontsize=8.5, family=HEAD, va='bottom', ha='left',
              transform=fig.transFigure)
    over.text(x1 - 0.002, ybot + 0.001, "\u00a9StockCharts.com", fontsize=8, color='#444444',
              va='bottom', ha='right', transform=fig.transFigure)
    o, h, l, c, chg = ohlc[i]
    pieces = [("Open", True), (" " + o + " ", False), ("High", True), (" " + h + " ", False),
              ("Low", True), (" " + l + " ", False), ("Close", True), (" " + c + " ", False),
              ("Chg", True), (" " + chg + " ", False)]
    prev = over.text(x1, dbot, "\u25b2", fontsize=6.5, color='#2a9a2a', va='bottom', ha='right',
                     transform=fig.transFigure)
    for txt, bold in reversed(pieces):
        prev = over.annotate(txt, xy=(0, 0), xycoords=prev, xytext=(0, 0), textcoords='offset points',
                             fontsize=9 if bold else 8, fontweight='bold' if bold else 'normal',
                             family=HEAD, va='bottom', ha='right', annotation_clip=False)


header(0, 0.9848, 0.9735, 0)
header(1, 0.9848, 0.9735, 1)
header(0, 0.4850, 0.4737, 2)
header(1, 0.4850, 0.4737, 3)

plt.savefig("out.png", dpi=100)
